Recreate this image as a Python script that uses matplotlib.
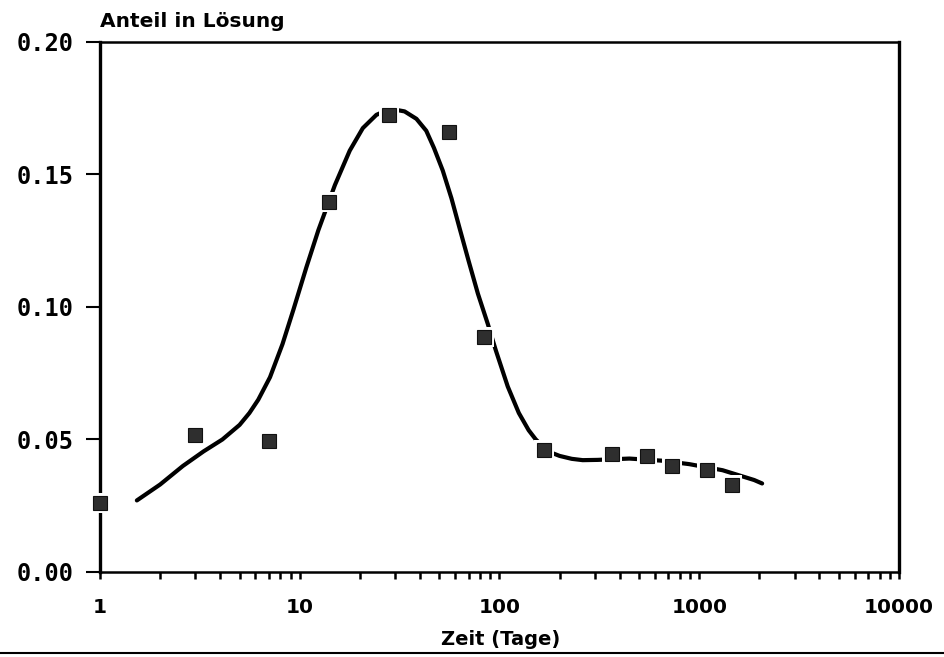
import numpy as np
import matplotlib
matplotlib.use("Agg")
from matplotlib import pyplot as plt
from matplotlib.lines import Line2D
from matplotlib.ticker import FixedLocator, LogLocator, NullFormatter

# measured points (days, fraction in solution)
days = [1, 3, 7, 14, 28, 56, 84, 168, 365, 545, 730, 1095, 1460]
anteil = [0.026, 0.0516, 0.0494, 0.1396, 0.1725, 0.1662, 0.0885, 0.046,
          0.0445, 0.0438, 0.040, 0.0384, 0.033]

# fitted curve
fit_days = [1.53, 2.0, 2.6, 3.3, 4.1, 5.0, 5.6, 6.2, 7.1, 8.2, 9.3, 10.8, 12.4,
            15.0, 17.8, 20.7, 24.2, 28.4, 33.5, 38.4, 43.0, 47.0, 52.0, 57.5,
            63.0, 70.0, 78.0, 87.5, 96.0, 110.0, 125.0, 140.0, 152.0, 175.0,
            200.0, 230.0, 261.0, 310.0, 447.0, 650.0, 891.0, 1309.0, 1884.0,
            2065.0]
fit_anteil = [0.027, 0.033, 0.040, 0.0455, 0.050, 0.0555, 0.060, 0.065, 0.0735,
              0.086, 0.099, 0.115, 0.129, 0.146, 0.159, 0.1675, 0.1725, 0.1748,
              0.1738, 0.171, 0.1665, 0.160, 0.1515, 0.141, 0.130, 0.1175,
              0.105, 0.0935, 0.0835, 0.070, 0.060, 0.0535, 0.050, 0.0455,
              0.0438, 0.0427, 0.0422, 0.0423, 0.0428, 0.042, 0.0407, 0.0384,
              0.0347, 0.0334]

xticks = [1, 10, 100, 1000, 10000]
xlabels = ["1", "10", "100", "1000", "10000"]
yticks = [0.0, 0.05, 0.10, 0.15, 0.20]
ylabels = ["0.00", "0.05", "0.10", "0.15", "0.20"]

fig = plt.figure(figsize=(9.44, 6.57), dpi=100)
ax = fig.add_axes([0.1059, 0.1294, 0.8464, 0.8067])

ax.plot(fit_days, fit_anteil, color="black", lw=3.0, solid_capstyle="round",
        solid_joinstyle="round", zorder=2)
# white halo round the squares, cuts the curve like in the original
ax.plot(days, anteil, ls="none", marker="s", ms=15, color="white",
        markeredgewidth=0, zorder=3, clip_on=False)
ax.plot(days, anteil, ls="none", marker="s", ms=10.5, color="#2e2e2e",
        markeredgecolor="#111111", markeredgewidth=0.8, zorder=4, clip_on=False)

ax.set_xscale("log")
ax.set_xlim(1, 10000)
ax.set_ylim(0, 0.2)

ax.xaxis.set_major_locator(FixedLocator(xticks))
ax.set_xticklabels(xlabels)
ax.xaxis.set_minor_locator(LogLocator(base=10, subs=np.arange(2, 10)))
ax.xaxis.set_minor_formatter(NullFormatter())
ax.set_yticks(yticks)
ax.set_yticklabels(ylabels)

ax.tick_params(axis="x", which="both", direction="out", length=5, width=1.8,
               pad=14)
ax.tick_params(axis="x", which="major", labelsize=14.5)
ax.tick_params(axis="y", which="major", direction="out", length=10, width=1.5,
               pad=9, labelsize=17)
for lab in ax.get_xticklabels():
    lab.set_fontweight("bold")
    lab.set_family("DejaVu Sans")
for lab in ax.get_yticklabels():
    lab.set_fontweight("bold")
    lab.set_family("DejaVu Sans Mono")

for side in ["left", "right"]:
    ax.spines[side].set_linewidth(2.4)
for side in ["top", "bottom"]:
    ax.spines[side].set_linewidth(1.8)

ax.text(0.0, 1.028, "Anteil in Lösung", transform=ax.transAxes, ha="left",
        va="baseline", fontsize=14.5, fontweight="bold")
fig.text(0.53, 1 - 645 / 657, "Zeit (Tage)", ha="center", va="baseline",
         fontsize=14, fontweight="bold")

# page edge line at the bottom of the scan
fig.add_artist(Line2D([0, 1], [1 - 653 / 657] * 2, color="black", lw=1.5))

fig.savefig("out.png", dpi=100)
